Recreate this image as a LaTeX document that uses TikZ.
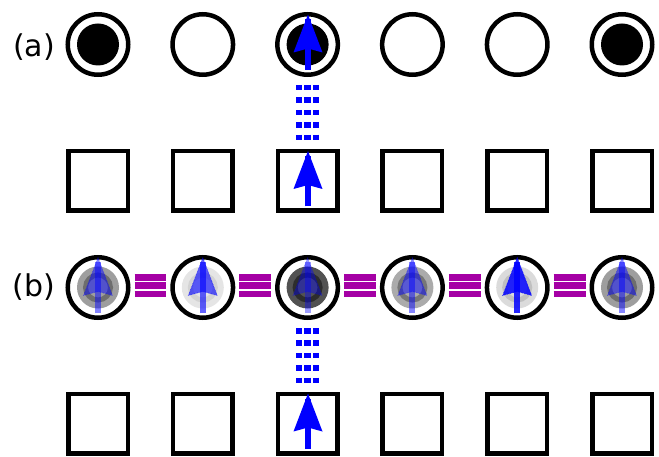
\documentclass[tikz,border=0pt]{standalone}
\usepackage{fontspec}
\setmainfont{DejaVu Sans}
\usetikzlibrary{arrows.meta}

\definecolor{bondpurple}{RGB}{165,0,165}

% upward spin arrow at (#1,#2) with opacity #3
\newcommand\spinup[3]{%
  \begin{scope}[shift={(#1,#2)},opacity=#3]
    \draw[blue,line width=6pt] (0,25.5) -- (0,-25);
    \fill[blue] (0,-30) -- (14.5,8) -- (0,4) -- (-14.5,8) -- cycle;
  \end{scope}}
% same arrow, with a dotted rim on the head
\newcommand\ghostspin[3]{%
  \begin{scope}[shift={(#1,#2)},opacity=#3]
    \draw[blue,line width=6pt] (0,25.5) -- (0,-25);
    \filldraw[blue,densely dotted,line width=0.6pt] (0,-30) -- (14.5,8) -- (0,4) -- (-14.5,8) -- cycle;
  \end{scope}}

\begin{document}
\begin{tikzpicture}[x=1pt,y=-1pt,
  site/.style={circle,draw,line width=4.5pt,minimum size=60.5pt,inner sep=0pt},
  cell/.style={rectangle,draw,line width=4.5pt,minimum size=59.5pt,inner sep=0pt},
  hop/.style={blue,line width=6.3pt,dash pattern=on 5.5pt off 6.9pt,
              shorten <=8pt,shorten >=9pt},
  bond/.style={bondpurple,line width=6.5pt,shorten <=4pt,shorten >=4pt},
  tag/.style={font=\fontsize{30}{34}\selectfont,inner sep=0pt}]

\fill[white] (0,0) rectangle (659,457);
\useasboundingbox (0,0) rectangle (659,457);

% rows of sites and cells
\foreach \i in {1,...,6} {
  \pgfmathsetmacro\xx{98+104.8*(\i-1)}
  \node[site] (a\i) at (\xx,44.5) {};
  \node[cell] (p\i) at (\xx,181) {};
  \node[site] (b\i) at (\xx,287.5) {};
  \node[cell] (q\i) at (\xx,423.5) {};
}

\node[tag] (la) at (34,47) {(a)};
\node[tag] (lb) at (34,287.5) {(b)};

% (a): occupied sites
\foreach \i in {1,3,6} \fill (a\i) circle (21);
\spinup{308}{44.5}{1}
\spinup{308}{181}{1}

% vertical hopping links
\foreach \s in {-8.3,0,8.3} {
  \draw[hop] ([xshift=\s pt]a3.south) -- ([xshift=\s pt]p3.north);
  \draw[hop] ([xshift=\s pt]b3.south) -- ([xshift=\s pt]q3.north);
}

% (b): partially occupied sites
\foreach \i/\d/\r/\o in {1/0.38/0.30/0.48, 2/0.10/0.08/0.62, 3/0.68/0.45/0.38,
                         4/0.33/0.30/0.48, 5/0.14/0.12/0.85, 6/0.38/0.30/0.48} {
  \fill[black,opacity=\d] (b\i) circle (21);
  \draw[black,opacity=\r,line width=5pt] (b\i) circle (12.5);
  \pgfmathsetmacro\xx{98+104.8*(\i-1)}
  \ghostspin{\xx}{287.5}{\o}
}
\spinup{308}{423.5}{1}

% bonds between neighbouring sites
\foreach \i [evaluate=\i as \j using int(\i+1)] in {1,...,5} {
  \foreach \s in {-10,-1.8,6.4}
    \draw[bond] ([yshift=-\s pt]b\i.east) -- ([yshift=-\s pt]b\j.west);
}
\end{tikzpicture}
\end{document}
